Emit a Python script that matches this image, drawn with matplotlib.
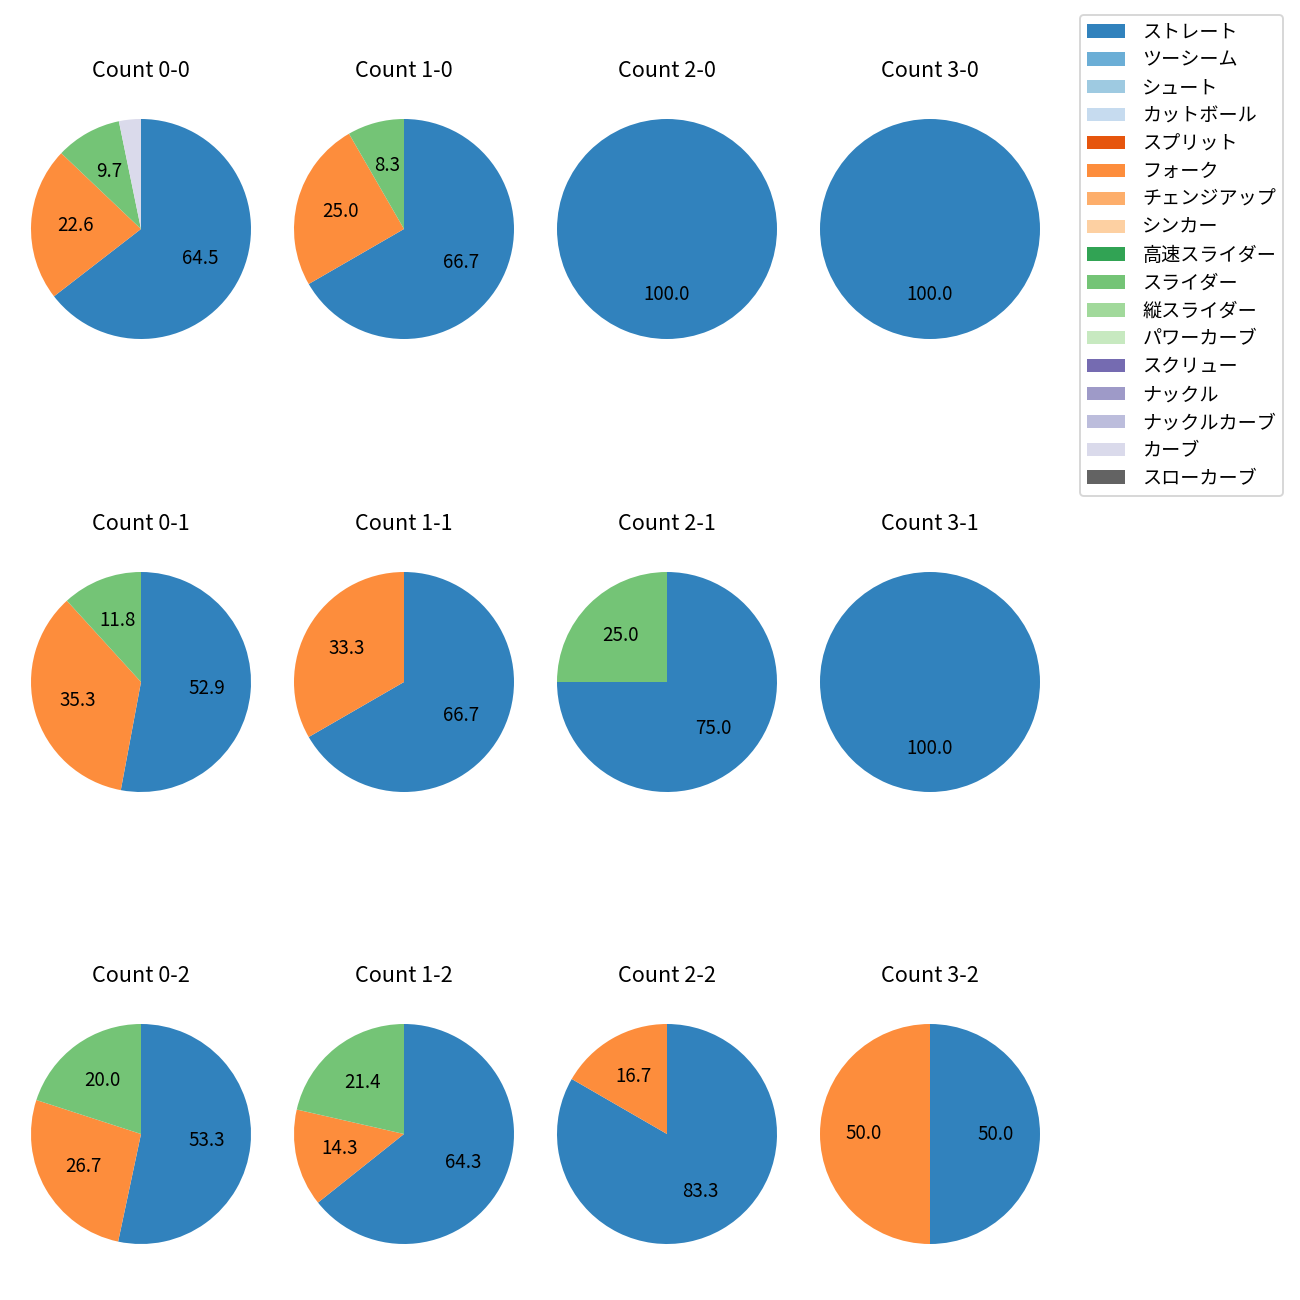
import matplotlib
matplotlib.use("Agg")
import matplotlib.pyplot as plt
from matplotlib.patches import Patch

plt.rcParams['font.family'] = ['Noto Sans CJK JP', 'DejaVu Sans']

pitch_types = ["ストレート", "ツーシーム", "シュート", "カットボール", "スプリット", "フォーク",
               "チェンジアップ", "シンカー", "高速スライダー", "スライダー", "縦スライダー",
               "パワーカーブ", "スクリュー", "ナックル", "ナックルカーブ", "カーブ", "スローカーブ"]

counts = ["0-0", "1-0", "2-0", "3-0",
          "0-1", "1-1", "2-1", "3-1",
          "0-2", "1-2", "2-2", "3-2"]

# values per count: pitch -> number of pitches
count_0_0 = {"ストレート": 20, "フォーク": 7, "スライダー": 3, "カーブ": 1}
count_1_0 = {"ストレート": 8, "フォーク": 3, "スライダー": 1}
count_2_0 = {"ストレート": 3}
count_3_0 = {"ストレート": 1}
count_0_1 = {"ストレート": 9, "フォーク": 6, "スライダー": 2}
count_1_1 = {"ストレート": 4, "フォーク": 2}
count_2_1 = {"ストレート": 3, "スライダー": 1}
count_3_1 = {"ストレート": 1}
count_0_2 = {"ストレート": 8, "フォーク": 4, "スライダー": 3}
count_1_2 = {"ストレート": 9, "フォーク": 2, "スライダー": 3}
count_2_2 = {"ストレート": 5, "フォーク": 1}
count_3_2 = {"ストレート": 1, "フォーク": 1}

data = [count_0_0, count_1_0, count_2_0, count_3_0,
        count_0_1, count_1_1, count_2_1, count_3_1,
        count_0_2, count_1_2, count_2_2, count_3_2]

cmap = plt.get_cmap('tab20c')
colors = {p: cmap(i) for i, p in enumerate(pitch_types)}

W = H = 1300
DPI = 135
fig = plt.figure(figsize=(W / DPI, H / DPI), dpi=DPI)

col_centers = [141, 404, 667, 930]
row_centers = [229, 682, 1134]
box = 275

for i, (c, d) in enumerate(zip(counts, data)):
    r, k = divmod(i, 4)
    cx, cy = col_centers[k], row_centers[r]
    ax = fig.add_axes([(cx - box / 2) / W, 1 - (cy + box / 2) / H, box / W, box / H])
    labels = [p for p in pitch_types if p in d]
    vals = [d[p] for p in labels]
    ax.pie(vals, colors=[colors[p] for p in labels], startangle=90, counterclock=False,
           autopct=lambda p: f'{p:.1f}' if p >= 5 else '', pctdistance=0.6,
           textprops={'fontsize': 10})
    ax.set_title(f'Count {c}', fontsize=11.5, pad=7.6)

handles = [Patch(facecolor=colors[p], label=p) for p in pitch_types]
fig.legend(handles=handles, loc='upper right', bbox_to_anchor=(1283 / W, 1 - 15 / H),
           borderaxespad=0, fontsize=10.2, labelspacing=0.36, borderpad=0.35,
           handletextpad=0.9)

fig.savefig('out.png', dpi=DPI)
